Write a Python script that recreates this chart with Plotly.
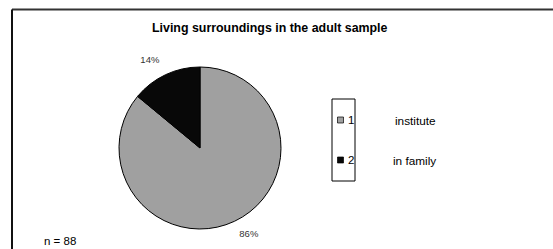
import plotly.graph_objects as go

W, H = 553, 249
categories = ["1", "2"]
names = ["institute", "in family"]
values = [86, 14]
colors = ["#A0A0A0", "#080808"]
title = "Living surroundings in the adult sample"
note = "n = 88"

def px(x):
    return x / W

def py(y):
    return 1 - y / H

FONT = "Arial, Liberation Sans, sans-serif"

fig = go.Figure()
fig.add_trace(go.Pie(
    labels=categories, values=values, sort=False, direction="clockwise", rotation=0,
    marker=dict(colors=colors, line=dict(color="#000000", width=1)),
    textposition="outside",
    texttemplate=["<span style='font-size:6px'> </span><br>%{percent:.0%}",
                  "%{percent:.0%}<br><span style='font-size:6px'> </span>"],
    textfont=dict(family=FONT, size=9.5, color="#333333"),
    domain=dict(x=[px(119), px(281)], y=[py(229), py(67)]),
    showlegend=False, hoverinfo="label+percent",
))

shapes = [
    dict(type="line", xref="paper", yref="paper", x0=px(12), x1=px(560), y0=py(9.5), y1=py(9.5),
         line=dict(color="#333333", width=2)),
    dict(type="line", xref="paper", yref="paper", x0=px(12), x1=px(12), y0=py(9.5), y1=py(260),
         line=dict(color="#111111", width=2)),
    dict(type="rect", xref="paper", yref="paper", x0=px(332), x1=px(355), y0=py(99), y1=py(181),
         line=dict(color="#000000", width=1), fillcolor="rgba(0,0,0,0)"),
]
leg_y = [120, 160]
for c, yy in zip(colors, leg_y):
    shapes.append(dict(type="rect", xref="paper", yref="paper", x0=px(337.5), x1=px(343.5),
                       y0=py(yy - 3), y1=py(yy + 3), line=dict(color="#000000", width=0.7), fillcolor=c))

annotations = [
    dict(text="<b>%s</b>" % title, x=px(270), y=py(28), xref="paper", yref="paper", showarrow=False,
         yanchor="middle", font=dict(family=FONT, size=12.4, color="#000000")),
    dict(text=note, x=px(42), y=py(241), xref="paper", yref="paper", showarrow=False, xanchor="left",
         yanchor="middle", font=dict(family=FONT, size=11.5, color="#000000")),
]
for cat, nm, yy, nx in zip(categories, names, [120, 160], [393, 391]):
    annotations.append(dict(text=cat, x=px(346), y=py(yy), xref="paper", yref="paper", showarrow=False,
                            xanchor="left", yanchor="middle",
                            font=dict(family=FONT, size=11.5, color="#000000")))
    annotations.append(dict(text=nm, x=px(nx), y=py(yy + 1), xref="paper", yref="paper", showarrow=False,
                            xanchor="left", yanchor="middle",
                            font=dict(family=FONT, size=11.8, color="#000000")))

fig.update_layout(width=W, height=H, margin=dict(l=0, r=0, t=0, b=0),
                  paper_bgcolor="white", plot_bgcolor="white",
                  shapes=shapes, annotations=annotations)
fig.write_html("out.html", config={"displayModeBar": False},
               post_script="document.body.style.margin='0';")
